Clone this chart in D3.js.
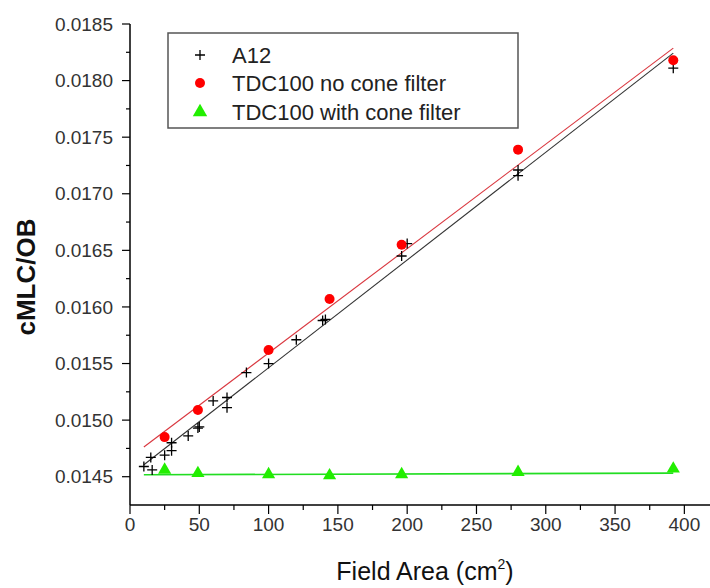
<!DOCTYPE html>
<html>
<head>
<meta charset="utf-8">
<script src="https://cdn.jsdelivr.net/npm/d3@7"></script>
<style>
  body { margin: 0; background: #fff; }
  svg { display: block; font-family: "Liberation Sans", Arial, sans-serif; }
</style>
</head>
<body>
<div id="app"></div>
<script>
// A12 measurements (field area, cMLC/OB)
const a12X = [10, 15, 16, 25, 30, 30, 42, 49, 50, 60, 70, 70, 84, 100, 120, 139, 141, 196, 200, 280, 280, 392];
const a12Y = [0.01459, 0.01467, 0.01456, 0.01469, 0.01473, 0.01480, 0.01486, 0.01493, 0.01494, 0.01517,
              0.01520, 0.01511, 0.01542, 0.01550, 0.01571, 0.01588, 0.01589, 0.01645, 0.01656, 0.01721,
              0.01716, 0.01811];

// TDC100 field areas
const tdcX = [25, 49, 100, 144, 196, 280, 392];
const noConeY = [0.01485, 0.01509, 0.01562, 0.01607, 0.01655, 0.01739, 0.01818];
const withConeY = [0.01456, 0.01453, 0.01452, 0.01451, 0.01452, 0.01454, 0.01457];

// fitted lines, start / end points
const fitX = [10, 392];
const fitA12 = [0.014606, 0.018243];
const fitNoCone = [0.014762, 0.018287];
const fitWithCone = [0.014517, 0.014532];

const xTicks = [0, 50, 100, 150, 200, 250, 300, 350, 400];
const yTicks = [0.0145, 0.0150, 0.0155, 0.0160, 0.0165, 0.0170, 0.0175, 0.0180, 0.0185];
const yTickLabels = ["0.0145", "0.0150", "0.0155", "0.0160", "0.0165", "0.0170", "0.0175", "0.0180", "0.0185"];

const legendNames = ["A12", "TDC100 no cone filter", "TDC100 with cone filter"];

const width = 710, height = 588;

const svg = d3.select("#app").append("svg")
    .attr("width", width)
    .attr("height", height);

const x = d3.scaleLinear().domain([0, 418.5]).range([130, 710]);
const y = d3.scaleLinear().domain([0.01425, 0.0185]).range([505, 24]);

// axes
svg.append("line")
    .attr("x1", x(0)).attr("x2", 710)
    .attr("y1", y(0.01425)).attr("y2", y(0.01425))
    .attr("stroke", "#000").attr("stroke-width", 1.5);
svg.append("line")
    .attr("x1", x(0)).attr("x2", x(0))
    .attr("y1", y(0.0185)).attr("y2", y(0.01425))
    .attr("stroke", "#000").attr("stroke-width", 1.5);

// x ticks
svg.selectAll(".xminor")
    .data(d3.range(25, 401, 50))
    .join("line")
    .attr("x1", d => x(d)).attr("x2", d => x(d))
    .attr("y1", y(0.01425)).attr("y2", y(0.01425) + 5)
    .attr("stroke", "#000").attr("stroke-width", 1.2);
svg.selectAll(".xmajor")
    .data(xTicks)
    .join("line")
    .attr("x1", d => x(d)).attr("x2", d => x(d))
    .attr("y1", y(0.01425)).attr("y2", y(0.01425) + 9)
    .attr("stroke", "#000").attr("stroke-width", 1.2);
svg.selectAll(".xlabel")
    .data(xTicks)
    .join("text")
    .attr("x", d => x(d))
    .attr("y", 531)
    .attr("text-anchor", "middle")
    .attr("font-size", 19)
    .attr("fill", "#333")
    .text(d => d);

// y ticks
svg.selectAll(".yminor")
    .data(d3.range(8).map(i => 0.01475 + i * 0.0005))
    .join("line")
    .attr("x1", x(0) - 4).attr("x2", x(0))
    .attr("y1", d => y(d)).attr("y2", d => y(d))
    .attr("stroke", "#000").attr("stroke-width", 1.2);
svg.selectAll(".ymajor")
    .data(yTicks)
    .join("line")
    .attr("x1", x(0) - 8).attr("x2", x(0))
    .attr("y1", d => y(d)).attr("y2", d => y(d))
    .attr("stroke", "#000").attr("stroke-width", 1.2);
svg.selectAll(".ylabel")
    .data(yTicks)
    .join("text")
    .attr("x", 113)
    .attr("y", d => y(d))
    .attr("dy", "0.35em")
    .attr("text-anchor", "end")
    .attr("font-size", 19)
    .attr("fill", "#333")
    .text((d, i) => yTickLabels[i]);

// axis titles
const xt = svg.append("text")
    .attr("x", 425).attr("y", 580)
    .attr("text-anchor", "middle")
    .attr("font-size", 25)
    .attr("fill", "#111");
xt.append("tspan").text("Field Area (cm");
xt.append("tspan").attr("font-size", 14).attr("dy", -11).text("2");
xt.append("tspan").attr("dy", 11).text(")");

svg.append("text")
    .attr("transform", "translate(35,277) rotate(-90)")
    .attr("text-anchor", "middle")
    .attr("font-size", 26)
    .attr("font-weight", "bold")
    .attr("fill", "#111")
    .text("cMLC/OB");

// fit lines
const line = d3.line().x(d => x(d[0])).y(d => y(d[1]));
const fits = [
    { vals: fitA12, color: "#333" },
    { vals: fitNoCone, color: "#d9363e" },
    { vals: fitWithCone, color: "#22dd22" }
];
svg.selectAll(".fit")
    .data(fits)
    .join("path")
    .attr("d", d => line(fitX.map((v, i) => [v, d.vals[i]])))
    .attr("fill", "none")
    .attr("stroke", d => d.color)
    .attr("stroke-width", d => d.color === "#22dd22" ? 1.6 : 1.1);

// markers
const crossPath = "M-5,0H5M0,-5V5";
svg.selectAll(".a12")
    .data(a12X.map((v, i) => [v, a12Y[i]]))
    .join("path")
    .attr("transform", d => `translate(${x(d[0])},${y(d[1])})`)
    .attr("d", crossPath)
    .attr("stroke", "#000")
    .attr("stroke-width", 1.3);

svg.selectAll(".nocone")
    .data(tdcX.map((v, i) => [v, noConeY[i]]))
    .join("circle")
    .attr("cx", d => x(d[0]))
    .attr("cy", d => y(d[1]))
    .attr("r", 5)
    .attr("fill", "#f00");

const tri = d3.symbol().type(d3.symbolTriangle).size(75);
svg.selectAll(".withcone")
    .data(tdcX.map((v, i) => [v, withConeY[i]]))
    .join("path")
    .attr("transform", d => `translate(${x(d[0])},${y(d[1])})`)
    .attr("d", tri())
    .attr("fill", "#22ee00");

// legend
const lg = svg.append("g");
lg.append("rect")
    .attr("x", 168).attr("y", 33)
    .attr("width", 350).attr("height", 95)
    .attr("fill", "#fff")
    .attr("stroke", "#555")
    .attr("stroke-width", 1.5);
const ly = [55, 83, 112];
lg.append("path")
    .attr("transform", `translate(200,${ly[0]})`)
    .attr("d", crossPath)
    .attr("stroke", "#000").attr("stroke-width", 1.3);
lg.append("circle")
    .attr("cx", 200).attr("cy", ly[1]).attr("r", 5)
    .attr("fill", "#f00");
lg.append("path")
    .attr("transform", `translate(200,${ly[2]})`)
    .attr("d", d3.symbol().type(d3.symbolTriangle).size(90)())
    .attr("fill", "#22ee00");
lg.selectAll(".lt")
    .data(legendNames)
    .join("text")
    .attr("x", 232)
    .attr("y", (d, i) => ly[i])
    .attr("dy", "0.36em")
    .attr("font-size", 22)
    .attr("fill", "#222")
    .text(d => d);
</script>
</body>
</html>
